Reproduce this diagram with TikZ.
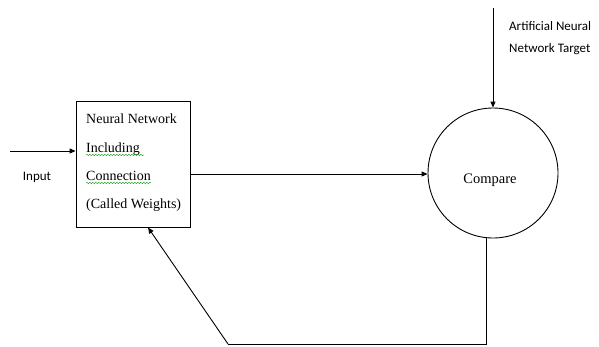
\documentclass[tikz,border=0pt]{standalone}
\usepackage{fontspec}
\setmainfont{Liberation Serif}
\newfontfamily\calib{Carlito}
\usetikzlibrary{arrows.meta,decorations.pathmorphing}
\begin{document}
\begin{tikzpicture}[x=1pt,y=-1pt,
  conn/.style={line width=0.9pt,-{Triangle[length=6pt,width=5pt]}},
  plain/.style={line width=0.9pt},
  lbl/.style={font=\calib\fontsize{13}{15}\selectfont,inner sep=0pt},
  boxtxt/.style={font=\fontsize{14}{16}\selectfont,inner sep=0pt,anchor=base west},
  squig/.style={draw=green!60!black,line width=0.4pt,decorate,decoration={snake,amplitude=0.7pt,segment length=3pt}}]
\useasboundingbox (0,0) rectangle (599,346);
\fill[white] (0,0) rectangle (599,346);
% box
\node[draw,line width=0.9pt,minimum width=114pt,minimum height=126pt,inner sep=0pt] (nn) at (133,164) {};
\node[boxtxt] (t1) at (86,123) {Neural Network};
\node[boxtxt] (t2) at (86,152) {Including};
\node[boxtxt] (t3) at (86,180) {Connection};
\node[boxtxt] (t4) at (86,208) {(Called Weights)};
\draw[squig] ([yshift=-3pt]t2.base west) -- ([yshift=-3pt,xshift=4pt]t2.base east);
\draw[squig] ([yshift=-3pt]t3.base west) -- ([yshift=-3pt]t3.base east);
% circle
\node[draw,circle,line width=0.9pt,minimum size=130pt,inner sep=0pt] (cmp) at (493,173) {};
\node[font=\fontsize{14.5}{16}\selectfont,inner sep=0pt] (cmpt) at (490,180) {Compare};
% input
\coordinate (in) at (10,151);
\node[lbl] (inl) at (37,177) {Input};
\draw[conn] (in) -- (nn.west |- in);
% top
\coordinate (tg) at (493,8);
\node[lbl,align=left,anchor=north west] (tgl) at (509,21) {Artificial Neural\\[7pt]Network Target};
\draw[conn] (tg) -- (cmp.north);
% middle
\draw[conn] (nn.east |- 0,174) -- (cmp.west |- 0,174);
% feedback
\coordinate (f1) at (486,344);
\coordinate (f2) at (228,344);
\draw[plain] (486,237) -- (f1) -- (f2);
\draw[conn] (f2) -- (nn.south -| 148,0);
\end{tikzpicture}
\end{document}
